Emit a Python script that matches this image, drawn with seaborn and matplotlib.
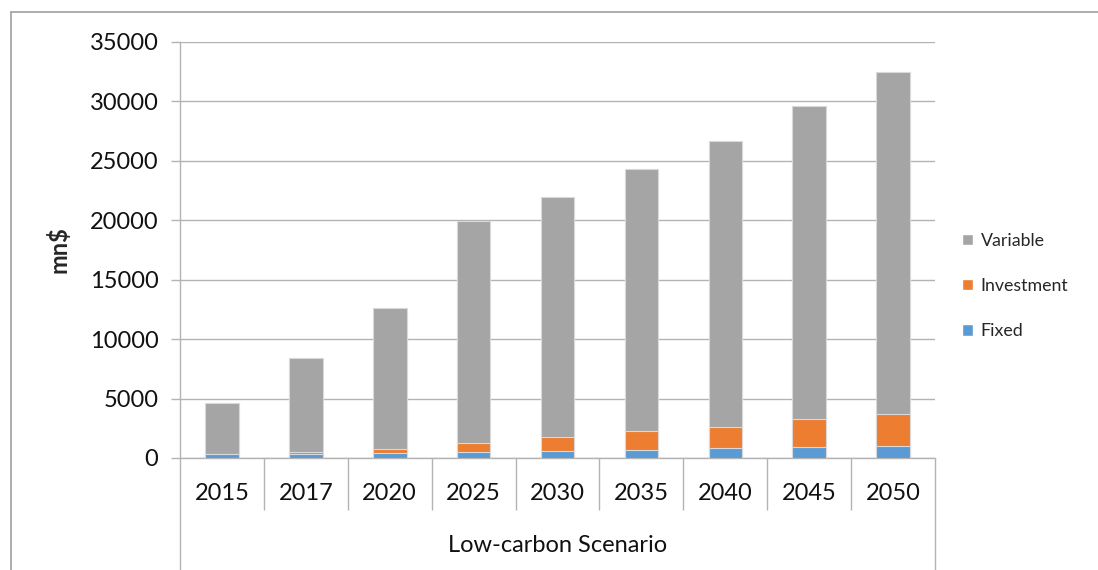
import matplotlib
matplotlib.use("Agg")
import matplotlib.pyplot as plt
from matplotlib.patches import Patch
from matplotlib.lines import Line2D
import pandas as pd
import seaborn as sns

years = ["2015", "2017", "2020", "2025", "2030", "2035", "2040", "2045", "2050"]
fixed = [300, 320, 390, 510, 590, 700, 840, 950, 1010]
investment = [0, 180, 330, 750, 1140, 1570, 1740, 2330, 2720]
variable = [4300, 7900, 11880, 18640, 20220, 22030, 24070, 26370, 28770]

sns.set_style("white")
plt.rcParams["font.family"] = ["Lato", "DejaVu Sans"]

df = pd.DataFrame({"year": years, "Fixed": fixed,
                   "Investment": investment, "Variable": variable})
# stacked by overlapping cumulative heights
df["fix_inv"] = df["Fixed"] + df["Investment"]
df["total"] = df["fix_inv"] + df["Variable"]

c_var = "#a5a5a5"
c_inv = "#ed7d31"
c_fix = "#5b9bd5"
grid_c = "#b3b3b3"

fig = plt.figure(figsize=(10.98, 5.70), dpi=100)
ax = fig.add_axes([180 / 1098, 112 / 570, 755 / 1098, 416 / 570])

for col, colr in [("total", c_var), ("fix_inv", c_inv), ("Fixed", c_fix)]:
    sns.barplot(data=df, x="year", y=col, ax=ax, color=colr, width=0.4,
                saturation=1, edgecolor="#d9d9d9", linewidth=0.8, zorder=3)

ax.set_ylim(0, 35000)
ax.set_xlim(-0.5, len(years) - 0.5)
ax.set_yticks(range(0, 35001, 5000))
ax.yaxis.grid(True, color=grid_c, linewidth=1)
ax.set_axisbelow(True)

for s in ["top", "right"]:
    ax.spines[s].set_visible(False)
ax.spines["left"].set_color(grid_c)
ax.spines["bottom"].set_color(grid_c)
ax.spines["left"].set_linewidth(1)
ax.spines["bottom"].set_linewidth(1)

ax.tick_params(axis="y", direction="out", length=6.5, color=grid_c,
               width=1, labelsize=17, pad=9, left=True, labelcolor="#111111")
ax.tick_params(axis="x", length=0, labelsize=17, pad=18, labelcolor="#111111")
ax.set_xlabel("")
ax.set_ylabel("mn$", fontsize=17, fontweight="bold", labelpad=14)

# category dividers under the axis
xt = ax.get_xaxis_transform()
inner = [i - 0.5 for i in range(1, len(years))]
ax.vlines(inner, 0, -52 / 416, transform=xt, colors=grid_c, lw=1, clip_on=False)
ax.vlines([-0.5, len(years) - 0.5], 0, -112 / 416, transform=xt,
          colors=grid_c, lw=1, clip_on=False)
ax.text(0.5, -88 / 416, "Low-carbon Scenario", transform=ax.transAxes,
        ha="center", va="center", fontsize=17, color="#111111")

handles = [Patch(facecolor=c_var, label="Variable"),
           Patch(facecolor=c_inv, label="Investment"),
           Patch(facecolor=c_fix, label="Fixed")]
fig.legend(handles=handles, loc="center left",
           bbox_to_anchor=(946 / 1098, 1 - 286 / 570), frameon=False,
           fontsize=12.8, handlelength=0.6, handleheight=0.6,
           handletextpad=0.45, labelspacing=1.65)

# chart area border
fig.add_artist(Line2D([11 / 1098, 1], [1 - 12 / 570] * 2, color="#a0a0a0", lw=1.2))
fig.add_artist(Line2D([11 / 1098] * 2, [0, 1 - 12 / 570], color="#a0a0a0", lw=1.2))

fig.savefig("out.png", dpi=100)
